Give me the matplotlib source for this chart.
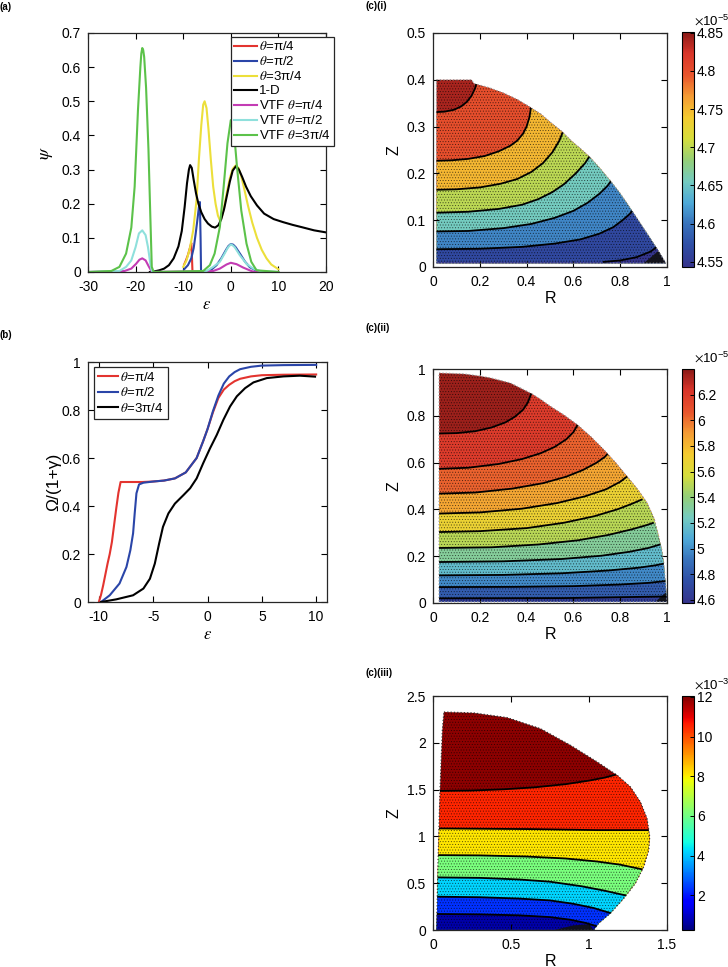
import numpy as np
import matplotlib
matplotlib.use('Agg')
import matplotlib.pyplot as plt
from matplotlib.patches import Polygon
from matplotlib.colors import LinearSegmentedColormap, Normalize
from matplotlib.cm import ScalarMappable

plt.rcParams['font.family'] = ['Liberation Sans', 'DejaVu Sans']
plt.rcParams['mathtext.fontset'] = 'stix'
plt.rcParams['axes.unicode_minus'] = False
plt.rcParams['hatch.linewidth'] = 0.4

# ---------------- panel (a): psi vs epsilon ----------------
red_a_eps = [-9.8, -9.4, -9.0, -8.6, -8.3, -8.15, -8.05]
red_a_psi = [0.022, 0.035, 0.05, 0.07, 0.085, 0.04, 0.0]

blue_a_eps = [-9.8, -9.0, -8.3, -7.8, -7.4, -7.0, -6.7, -6.5, -6.35, -6.25,
              -5, -4, -3, -2, -1, -0.5, 0, 0.5, 1, 2, 3, 4, 5.5]
blue_a_psi = [0.008, 0.02, 0.04, 0.07, 0.11, 0.155, 0.19, 0.205, 0.1, 0.0,
              0.002, 0.008, 0.02, 0.04, 0.065, 0.076, 0.082, 0.08, 0.073, 0.052, 0.03, 0.014, 0.003]

yel_a_eps = [-10, -9.3, -8.6, -7.9, -7.2, -6.7, -6.2, -5.8, -5.5, -5.1, -4.7, -4.2, -3.7, -3.2,
             -2.7, -2.3, -1.9, -1.4, -0.8, -0.2, 0.4, 1.0, 1.6, 2.2, 2.8, 3.6, 4.5, 5.5, 6.5,
             7.5, 8.5, 10]
yel_a_psi = [0.015, 0.034, 0.069, 0.122, 0.21, 0.33, 0.43, 0.49, 0.5, 0.48, 0.42, 0.33, 0.25, 0.2,
             0.165, 0.152, 0.16, 0.19, 0.235, 0.275, 0.302, 0.312, 0.305, 0.28, 0.245, 0.195, 0.145,
             0.1, 0.065, 0.04, 0.022, 0.008]

blk_a_eps = [-17, -16, -15, -14, -13, -12, -11, -10.3, -9.7, -9.2, -8.8, -8.55, -8.2, -7.8, -7.3,
             -6.8, -6.2, -5.5, -4.8, -4.0, -3.3, -2.6, -2.0, -1.4, -0.8, -0.2, 0.4, 1.1, 1.7, 2.4,
             3.2, 4.2, 5.5, 7, 9, 11, 13, 15, 17.5, 20]
blk_a_psi = [0, 0.002, 0.005, 0.01, 0.02, 0.04, 0.075, 0.12, 0.19, 0.26, 0.3, 0.313, 0.305, 0.27,
             0.23, 0.2, 0.175, 0.155, 0.142, 0.133, 0.13, 0.137, 0.155, 0.185, 0.225, 0.265, 0.297,
             0.31, 0.3, 0.278, 0.25, 0.222, 0.195, 0.171, 0.155, 0.146, 0.138, 0.131, 0.122, 0.116]

mag_a_eps = [-30, -22.3, -20.9, -19.9, -19.2, -18.6, -17.9, -17.3, -16.7, -16.2,
             -3.7, -2.3, -0.9, 0, 1.2, 2.6, 4.3, 5, 10]
mag_a_psi = [0, 0.003, 0.01, 0.024, 0.036, 0.04, 0.034, 0.018, 0.003, 0,
             0.003, 0.01, 0.022, 0.027, 0.023, 0.013, 0.003, 0, 0]

cya_a_eps = [-30, -23.4, -22, -20.9, -20, -19.3, -18.6, -17.9, -17.4, -16.9, -16.6, -16.2,
             -6, -5.1, -3.7, -2.3, -1.3, -0.6, 0, 0.4, 0.8, 1.9, 3.3, 4.7, 6.1, 10]
cya_a_psi = [0, 0.003, 0.015, 0.034, 0.073, 0.113, 0.122, 0.108, 0.073, 0.024, 0.003, 0,
             0, 0.003, 0.015, 0.03, 0.054, 0.072, 0.081, 0.078, 0.073, 0.049, 0.024, 0.01, 0.003, 0]

grn_a_eps = [-30, -25.1, -23.4, -22.0, -20.9, -20.2, -19.5, -19.0, -18.8, -18.6, -18.4, -18.2,
             -17.8, -17.3, -16.9, -16.6, -16.2, -5.8, -4.4, -3.4, -2.3, -1.5, -0.7, 0, 0.7, 1.3,
             2.2, 3.3, 4.3, 5.4, 10]
grn_a_psi = [0, 0.003, 0.015, 0.054, 0.13, 0.25, 0.475, 0.6, 0.64, 0.656, 0.65, 0.63,
             0.54, 0.36, 0.16, 0.015, 0, 0.003, 0.02, 0.054, 0.132, 0.25, 0.377, 0.445, 0.406,
             0.308, 0.18, 0.083, 0.03, 0.005, 0]

labels_a = [r'$\theta$=π/4', r'$\theta$=π/2', r'$\theta$=3π/4', '1-D',
            r'VTF $\theta$=π/4', r'VTF $\theta$=π/2', r'VTF $\theta$=3π/4']

# ---------------- panel (b): Omega/(1+gamma) vs epsilon ----------------
red_b_eps = [-10, -9.8, -9.6, -9.4, -9.2, -9.0, -8.8, -8.6, -8.4, -8.2, -8.0, -7.0, -6.0, -5.0,
             -4.0, -3.0, -2.0, -1.0, -0.4, 0, 0.5, 1.0, 1.5, 2.0, 2.5, 3, 4, 5, 7, 10]
red_b_om = [0, 0.03, 0.07, 0.115, 0.16, 0.2, 0.25, 0.32, 0.39, 0.455, 0.5, 0.5, 0.5, 0.502,
            0.506, 0.515, 0.54, 0.6, 0.67, 0.72, 0.79, 0.85, 0.885, 0.905, 0.92, 0.93, 0.94,
            0.945, 0.947, 0.948]

blu_b_eps = [-9.8, -9.0, -8.1, -7.46, -7.1, -6.85, -6.7, -6.54, -6.3, -5.9, -5.0, -4.0, -3.0,
             -2.0, -1.0, -0.4, 0, 0.5, 1.0, 1.5, 2.0, 2.5, 3, 4, 5, 7, 10]
blu_b_om = [0, 0.028, 0.077, 0.146, 0.216, 0.286, 0.37, 0.453, 0.49, 0.497, 0.502, 0.506, 0.515,
            0.54, 0.6, 0.67, 0.72, 0.795, 0.86, 0.91, 0.94, 0.958, 0.97, 0.98, 0.985, 0.987, 0.988]

blk_b_eps = [-9.8, -8.4, -6.85, -5.9, -5.3, -4.85, -4.45, -4.1, -3.6, -3.0, -2.2, -1.6, -1.0,
             -0.4, 0.23, 0.85, 1.46, 2.08, 2.7, 3.46, 4.23, 5.46, 7.0, 8.5, 9.9]
blk_b_om = [0, 0.011, 0.028, 0.056, 0.097, 0.16, 0.244, 0.313, 0.369, 0.41, 0.446, 0.474, 0.515,
            0.578, 0.64, 0.696, 0.759, 0.815, 0.857, 0.891, 0.915, 0.933, 0.94, 0.943, 0.939]

labels_b = [r'$\theta$=π/4', r'$\theta$=π/2', r'$\theta$=3π/4']

# ---------------- panel (c)(i) ----------------
i_bR = [0.015, 0.165, 0.175, 0.24, 0.30, 0.36, 0.41, 0.46, 0.50, 0.55, 0.59, 0.63, 0.67, 0.715,
        0.76, 0.80, 0.84, 0.885, 0.93, 0.965, 0.995, 0.015]
i_bZ = [0.40, 0.40, 0.392, 0.383, 0.372, 0.358, 0.343, 0.327, 0.31, 0.29, 0.27, 0.253, 0.235,
        0.21, 0.183, 0.157, 0.128, 0.094, 0.06, 0.033, 0.008, 0.008]
i_lines = [
    ([0.015, 0.05, 0.09, 0.12, 0.145, 0.165, 0.18, 0.19],
     [0.331, 0.332, 0.336, 0.343, 0.353, 0.366, 0.382, 0.40]),
    ([0.015, 0.08, 0.15, 0.22, 0.28, 0.33, 0.36, 0.385, 0.40, 0.412, 0.42],
     [0.227, 0.228, 0.231, 0.237, 0.247, 0.259, 0.27, 0.285, 0.3, 0.32, 0.345]),
    ([0.015, 0.1, 0.2, 0.29, 0.36, 0.42, 0.47, 0.51, 0.54, 0.56],
     [0.165, 0.166, 0.17, 0.178, 0.188, 0.203, 0.222, 0.245, 0.27, 0.295]),
    ([0.015, 0.15, 0.28, 0.38, 0.45, 0.51, 0.56, 0.61, 0.65, 0.68],
     [0.116, 0.118, 0.124, 0.133, 0.145, 0.16, 0.177, 0.2, 0.222, 0.245]),
    ([0.015, 0.15, 0.3, 0.42, 0.52, 0.6, 0.66, 0.71, 0.745, 0.77],
     [0.076, 0.077, 0.083, 0.092, 0.105, 0.12, 0.137, 0.156, 0.173, 0.19]),
    ([0.015, 0.2, 0.38, 0.52, 0.63, 0.71, 0.77, 0.81, 0.84, 0.86],
     [0.038, 0.039, 0.043, 0.05, 0.059, 0.071, 0.085, 0.1, 0.113, 0.125]),
    ([0.73, 0.8, 0.87, 0.93, 0.975], [0.011, 0.014, 0.021, 0.033, 0.05]),
]
i_vals = [4.84, 4.80, 4.75, 4.70, 4.655, 4.61, 4.565, 4.545]
i_corner_R = [0.9, 0.995, 0.965]
i_corner_Z = [0.008, 0.008, 0.035]
i_ticks = [4.55, 4.6, 4.65, 4.7, 4.75, 4.8, 4.85]
i_ticklabels = ['4.55', '4.6', '4.65', '4.7', '4.75', '4.8', '4.85']

# ---------------- panel (c)(ii) ----------------
ii_bR = [0.026, 0.132, 0.2, 0.246, 0.331, 0.417, 0.46, 0.502, 0.56, 0.616, 0.675, 0.73, 0.78,
         0.829, 0.875, 0.915, 0.945, 0.964, 0.978, 0.986, 0.996, 1.0, 0.026]
ii_bZ = [0.983, 0.979, 0.97, 0.962, 0.94, 0.897, 0.87, 0.84, 0.803, 0.762, 0.71, 0.655, 0.6,
         0.541, 0.485, 0.427, 0.36, 0.285, 0.225, 0.171, 0.057, 0.005, 0.005]
ii_lines = [
    ([0.015, 0.1, 0.18, 0.25, 0.31, 0.35, 0.385, 0.405, 0.42],
     [0.724, 0.726, 0.734, 0.75, 0.772, 0.796, 0.826, 0.856, 0.895]),
    ([0.015, 0.15, 0.28, 0.38, 0.46, 0.52, 0.57, 0.6, 0.62],
     [0.573, 0.578, 0.594, 0.615, 0.64, 0.667, 0.7, 0.73, 0.765]),
    ([0.015, 0.18, 0.34, 0.47, 0.57, 0.64, 0.7, 0.735, 0.755],
     [0.467, 0.472, 0.489, 0.512, 0.54, 0.568, 0.6, 0.625, 0.648]),
    ([0.015, 0.2, 0.38, 0.53, 0.65, 0.74, 0.8, 0.835],
     [0.382, 0.387, 0.403, 0.427, 0.456, 0.486, 0.518, 0.545]),
    ([0.015, 0.2, 0.4, 0.56, 0.69, 0.79, 0.85, 0.892],
     [0.303, 0.307, 0.32, 0.343, 0.371, 0.401, 0.424, 0.442]),
    ([0.015, 0.25, 0.45, 0.62, 0.75, 0.85, 0.91, 0.94],
     [0.235, 0.238, 0.25, 0.268, 0.291, 0.315, 0.332, 0.342]),
    ([0.015, 0.3, 0.55, 0.72, 0.84, 0.92, 0.97],
     [0.175, 0.178, 0.188, 0.202, 0.219, 0.235, 0.25]),
    ([0.015, 0.3, 0.55, 0.75, 0.88, 0.95, 0.985],
     [0.118, 0.12, 0.127, 0.139, 0.151, 0.161, 0.168]),
    ([0.015, 0.35, 0.6, 0.8, 0.92, 0.995], [0.068, 0.069, 0.072, 0.079, 0.086, 0.094]),
    ([0.015, 0.559, 0.998], [0.02, 0.021, 0.028]),
]
ii_vals = [6.36, 6.2, 6.03, 5.86, 5.68, 5.5, 5.33, 5.16, 4.98, 4.81, 4.64]
ii_corner_R = [0.95, 1.0, 0.995]
ii_corner_Z = [0.005, 0.005, 0.045]
ii_ticks = [4.6, 4.8, 5.0, 5.2, 5.4, 5.6, 5.8, 6.0, 6.2]
ii_ticklabels = ['4.6', '4.8', '5', '5.2', '5.4', '5.6', '5.8', '6', '6.2']

# ---------------- panel (c)(iii) ----------------
iii_bR = [0.07, 0.262, 0.476, 0.689, 0.881, 1.052, 1.18, 1.265, 1.329, 1.372, 1.389, 1.383,
          1.351, 1.297, 1.223, 1.137, 1.062, 1.03, 0.023, 0.032, 0.045, 0.06]
iii_bZ = [2.329, 2.319, 2.269, 2.151, 1.974, 1.796, 1.654, 1.529, 1.369, 1.191, 0.996, 0.853,
          0.676, 0.498, 0.338, 0.178, 0.071, 0.0, 0.0, 0.711, 1.494, 2.134]
iii_lines = [
    ([0.045, 0.25, 0.45, 0.65, 0.85, 1.0, 1.1, 1.19],
     [1.486, 1.49, 1.503, 1.524, 1.558, 1.596, 1.628, 1.668]),
    ([0.03, 0.625, 1.052, 1.39], [1.085, 1.078, 1.067, 1.067]),
    ([0.03, 0.3, 0.6, 0.85, 1.05, 1.2, 1.35], [0.8, 0.797, 0.785, 0.764, 0.732, 0.698, 0.645]),
    ([0.03, 0.3, 0.55, 0.75, 0.95, 1.1, 1.26], [0.562, 0.557, 0.54, 0.516, 0.468, 0.42, 0.36]),
    ([0.03, 0.3, 0.55, 0.75, 0.9, 1.03, 1.15], [0.356, 0.35, 0.336, 0.316, 0.28, 0.235, 0.175]),
    ([0.03, 0.3, 0.55, 0.75, 0.88, 0.98, 1.05], [0.171, 0.167, 0.157, 0.138, 0.11, 0.075, 0.04]),
]
iii_vals = [11.9, 10.5, 8.1, 6.1, 4.2, 2.3, 0.7]
iii_corner_R = [0.78, 1.03, 1.0, 0.9]
iii_corner_Z = [0.0, 0.0, 0.06, 0.05]
iii_ticks = [2, 4, 6, 8, 10, 12]
iii_ticklabels = ['2', '4', '6', '8', '10', '12']

# colormaps
cmap_ci = LinearSegmentedColormap.from_list(
    'ci', ['#35348c', '#2f4ea5', '#3872bb', '#4ea9d8', '#74cbc0', '#94cf78', '#d6de3c',
           '#f4cb30', '#f49b34', '#e8542d', '#d9352a', '#8b1a17'])
cmap_jet = plt.get_cmap('jet')

fig = plt.figure(figsize=(7.28, 9.67), dpi=100)
W, H = 728.0, 967.0


def axes_px(x0, y0, x1, y1):
    return fig.add_axes([x0 / W, 1 - y1 / H, (x1 - x0) / W, (y1 - y0) / H])


def style(ax):
    ax.tick_params(direction='in', top=True, right=True, length=4, width=0.8,
                   labelsize=10)
    ax.tick_params(axis='x', pad=6)
    ax.tick_params(axis='y', pad=5)
    for s in ax.spines.values():
        s.set_linewidth(0.9)
        s.set_color('#262626')


# ---- (a)
ax = axes_px(88, 33, 326, 272)
ax.plot(red_a_eps, red_a_psi, color='#e3342f', lw=1.5)
ax.plot(blue_a_eps, blue_a_psi, color='#2a45a8', lw=1.5)
ax.plot(yel_a_eps, yel_a_psi, color='#ecdf3a', lw=1.5)
ax.plot(blk_a_eps, blk_a_psi, color='black', lw=1.5)
ax.plot(mag_a_eps, mag_a_psi, color='#c33cb4', lw=1.5)
ax.plot(cya_a_eps, cya_a_psi, color='#8fe0dc', lw=1.5)
ax.plot(grn_a_eps, grn_a_psi, color='#5cc24a', lw=1.5)
ax.set_xlim(-30, 20)
ax.set_ylim(0, 0.7)
ax.set_xticks([-30, -20, -10, 0, 10, 20])
ax.set_xticklabels(['-30', '-20', '-10', '0', '10', '20'])
ax.set_yticks([0, 0.1, 0.2, 0.3, 0.4, 0.5, 0.6, 0.7])
ax.set_yticklabels(['0', '0.1', '0.2', '0.3', '0.4', '0.5', '0.6', '0.7'])
ax.set_xlabel(r'$\epsilon$', fontsize=12, labelpad=2)
ax.set_ylabel(r'$\psi$', fontsize=13, labelpad=5)
style(ax)
leg = ax.legend(labels_a, loc='upper right', bbox_to_anchor=(334 / W, 1 - 37 / H),
                bbox_transform=fig.transFigure, fontsize=9.5, labelspacing=0.15,
                handlelength=1.75, handletextpad=0.1, borderpad=0.25, borderaxespad=0,
                fancybox=False, framealpha=1, edgecolor='#262626')
leg.get_frame().set_linewidth(0.9)

# ---- (b)
ax = axes_px(88, 362, 327, 602)
ax.plot(red_b_eps, red_b_om, color='#e3342f', lw=1.5)
ax.plot(blu_b_eps, blu_b_om, color='#2a45a8', lw=1.5)
ax.plot(blk_b_eps, blk_b_om, color='black', lw=1.5)
ax.set_xlim(-11, 11)
ax.set_ylim(0, 1)
ax.set_xticks([-10, -5, 0, 5, 10])
ax.set_xticklabels(['-10', '-5', '0', '5', '10'])
ax.set_yticks([0, 0.2, 0.4, 0.6, 0.8, 1])
ax.set_yticklabels(['0', '0.2', '0.4', '0.6', '0.8', '1'])
ax.set_xlabel(r'$\epsilon$', fontsize=12, labelpad=2)
ax.set_ylabel('Ω/(1+γ)', fontsize=12.5, labelpad=0)
style(ax)
leg = ax.legend(labels_b, loc='upper left', bbox_to_anchor=(94 / W, 1 - 367 / H),
                bbox_transform=fig.transFigure, fontsize=9.5, labelspacing=0.18,
                handlelength=1.5, handletextpad=0.2, borderpad=0.3, borderaxespad=0,
                fancybox=False, framealpha=1, edgecolor='#262626')
leg.get_frame().set_linewidth(0.9)


# ---- contour panels
def draw_field(ax, bR, bZ, lines, vals, cornR, cornZ, cmap, vmin, vmax, outline):
    norm = Normalize(vmin, vmax)
    dom = Polygon(np.column_stack([bR, bZ]), closed=True, facecolor=cmap(norm(vals[0])),
                  edgecolor='none', zorder=1)
    ax.add_patch(dom)
    for k, (lr, lz) in enumerate(lines):
        pts = list(zip(lr, lz)) + [(5, lz[-1]), (5, -1), (-1, -1), (-1, lz[0])]
        p = Polygon(pts, closed=True, facecolor=cmap(norm(vals[k + 1])), edgecolor='none',
                    zorder=1)
        ax.add_patch(p)
        p.set_clip_path(dom)
    # dense mesh nodes give a dotted texture
    dots = Polygon(np.column_stack([bR, bZ]), closed=True, facecolor='none',
                   edgecolor=(0, 0, 0, 0.6), lw=0, hatch='......', zorder=2)
    ax.add_patch(dots)
    corner = Polygon(np.column_stack([cornR, cornZ]), closed=True, facecolor='#111111',
                     edgecolor='none', alpha=0.9, zorder=2)
    ax.add_patch(corner)
    corner.set_clip_path(dom)
    for lr, lz in lines:
        ln, = ax.plot(lr, lz, color='black', lw=1.3, zorder=3)
        ln.set_clip_path(dom)
    ax.plot(list(bR) + [bR[0]], list(bZ) + [bZ[0]], color=outline, lw=0.9, ls=':', zorder=2)
    return norm


def colorbar(cax, norm, cmap, ticks, ticklabels, expo, y_top):
    cb = fig.colorbar(ScalarMappable(norm=norm, cmap=cmap), cax=cax)
    cb.set_ticks(ticks)
    cb.set_ticklabels(ticklabels)
    cb.outline.set_linewidth(0.8)
    cax.tick_params(direction='in', length=3, width=0.7, labelsize=10, pad=2)
    fig.text(694 / W, 1 - (y_top - 4) / H, r'$\times\mathregular{10^{%s}}$' % expo,
             fontsize=9.5, ha='left', va='bottom')


def field_axes(ax, xt, xtl, yt, ytl, xmax, ymax):
    ax.set_xlim(0, xmax)
    ax.set_ylim(0, ymax)
    ax.set_xticks(xt)
    ax.set_xticklabels(xtl)
    ax.set_yticks(yt)
    ax.set_yticklabels(ytl)
    ax.set_xlabel('R', fontsize=11.5, labelpad=1)
    ax.set_ylabel('Z', fontsize=11.5, labelpad=4)
    style(ax)


# (c)(i)
ax = axes_px(433, 33, 667, 267)
cax = axes_px(682, 32, 694, 267)
norm = draw_field(ax, i_bR, i_bZ, i_lines, i_vals, i_corner_R, i_corner_Z, cmap_ci,
                  4.543, 4.851, '#9a9a9a')
field_axes(ax, [0, 0.2, 0.4, 0.6, 0.8, 1], ['0', '0.2', '0.4', '0.6', '0.8', '1'],
           [0, 0.1, 0.2, 0.3, 0.4, 0.5], ['0', '0.1', '0.2', '0.3', '0.4', '0.5'], 1, 0.5)
colorbar(cax, norm, cmap_ci, i_ticks, i_ticklabels, '-5', 32)

# (c)(ii)
ax = axes_px(433, 369, 667, 603)
cax = axes_px(682, 369, 694, 603)
norm = draw_field(ax, ii_bR, ii_bZ, ii_lines, ii_vals, ii_corner_R, ii_corner_Z, cmap_ci,
                  4.575, 6.40, '#9a9a9a')
field_axes(ax, [0, 0.2, 0.4, 0.6, 0.8, 1], ['0', '0.2', '0.4', '0.6', '0.8', '1'],
           [0, 0.2, 0.4, 0.6, 0.8, 1], ['0', '0.2', '0.4', '0.6', '0.8', '1'], 1, 1)
colorbar(cax, norm, cmap_ci, ii_ticks, ii_ticklabels, '-5', 369)

# (c)(iii)
ax = axes_px(433, 696, 667, 930)
cax = axes_px(682, 696, 694, 930)
norm = draw_field(ax, iii_bR, iii_bZ, iii_lines, iii_vals, iii_corner_R, iii_corner_Z,
                  cmap_jet, 0.24, 12.05, '#333333')
field_axes(ax, [0, 0.5, 1, 1.5], ['0', '0.5', '1', '1.5'],
           [0, 0.5, 1, 1.5, 2, 2.5], ['0', '0.5', '1', '1.5', '2', '2.5'], 1.5, 2.5)
colorbar(cax, norm, cmap_jet, iii_ticks, iii_ticklabels, '-3', 696)

# panel letters
fig.text(0 / W, 1 - 7 / H, '(a)', fontsize=7, fontweight='bold', va='center')
fig.text(0 / W, 1 - 335 / H, '(b)', fontsize=7, fontweight='bold', va='center')
fig.text(366 / W, 1 - 6 / H, '(c)(i)', fontsize=7, fontweight='bold', va='center')
fig.text(366 / W, 1 - 328 / H, '(c)(ii)', fontsize=7, fontweight='bold', va='center')
fig.text(366 / W, 1 - 673 / H, '(c)(iii)', fontsize=7, fontweight='bold', va='center')

fig.savefig('out.png', dpi=100)
